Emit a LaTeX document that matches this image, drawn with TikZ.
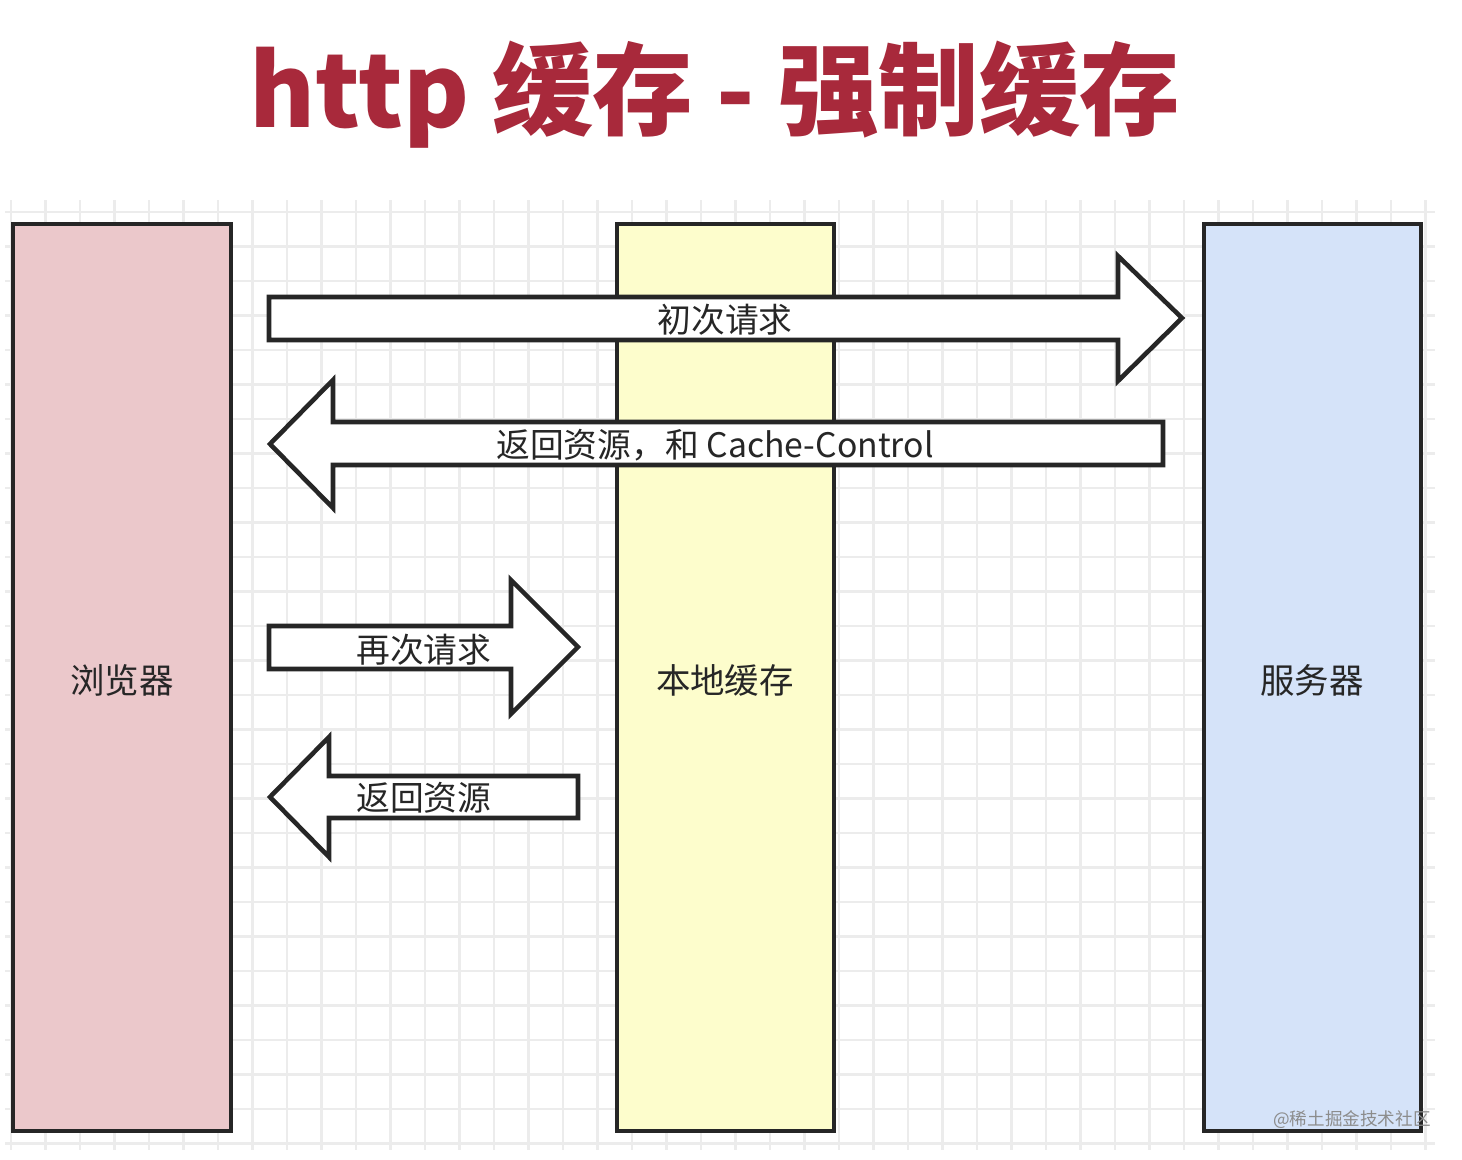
\documentclass[tikz,border=0pt]{standalone}
\usepackage{fontspec}
\setmainfont{Noto Sans CJK SC}
\definecolor{titlered}{HTML}{A8293B}
\definecolor{pinkf}{HTML}{EBC8CB}
\definecolor{yelf}{HTML}{FDFDCC}
\definecolor{bluef}{HTML}{D5E3F9}
\definecolor{gridc}{HTML}{ECECEC}
\begin{document}
\begin{tikzpicture}[x=0.01cm,y=-0.01cm,
  col/.style={draw=black!85,line width=1.3pt},
  bigarrow/.style={draw=black!85,fill=white,line width=1.3pt,line join=miter},
  lbl/.style={font=\fontsize{9.6}{12}\selectfont,text=black!85},
  hdr/.style={font=\fontsize{9.8}{12}\selectfont,text=black!85}]
\useasboundingbox (0,0) rectangle (1462,1160);
\fill[white] (0,0) rectangle (1462,1160);
\foreach \i in {0,...,41} \draw[gridc,line width=0.6pt] ({11+\i*34.5},200) -- ({11+\i*34.5},1150);
\foreach \j in {0,...,27} \draw[gridc,line width=0.6pt] (5,{212+\j*34.5}) -- (1435,{212+\j*34.5});
\node[font=\fontsize{28.6}{32}\selectfont\bfseries,text=titlered] (title) at (715,95) {http 缓存 - 强制缓存};
\draw[col,fill=pinkf] (13,224) rectangle (231,1131);
\draw[col,fill=yelf] (617,224) rectangle (834,1131);
\draw[col,fill=bluef] (1204,224) rectangle (1421,1131);
\node[hdr] (browser) at (122,680) {浏览器};
\node[hdr] (cache) at (725,680) {本地缓存};
\node[hdr] (server) at (1312,680) {服务器};
% arrow 1
\draw[bigarrow] (269,297) -- (1118,297) -- (1118,256) -- (1182,318) -- (1118,381) -- (1118,340) -- (269,340) -- cycle;
\node[lbl] (a1) at (725,320) {初次请求};
% arrow 2
\draw[bigarrow] (1163,422) -- (333,422) -- (333,380) -- (270,444) -- (333,508) -- (333,465) -- (1163,465) -- cycle;
\node[lbl] (a2) at (715,445) {返回资源，和 Cache-Control};
% arrow 3
\draw[bigarrow] (269,626) -- (511,626) -- (511,580) -- (578,647) -- (511,714) -- (511,669) -- (269,669) -- cycle;
\node[lbl] (a3) at (424,650) {再次请求};
% arrow 4
\draw[bigarrow] (578,776) -- (329,776) -- (329,737) -- (270,797) -- (329,857) -- (329,818) -- (578,818) -- cycle;
\node[lbl] (a4) at (424,798) {返回资源};
\node[font=\fontsize{5}{6}\selectfont,text=black!45] (wm) at (1352,1120) {@稀土掘金技术社区};
\end{tikzpicture}
\end{document}
